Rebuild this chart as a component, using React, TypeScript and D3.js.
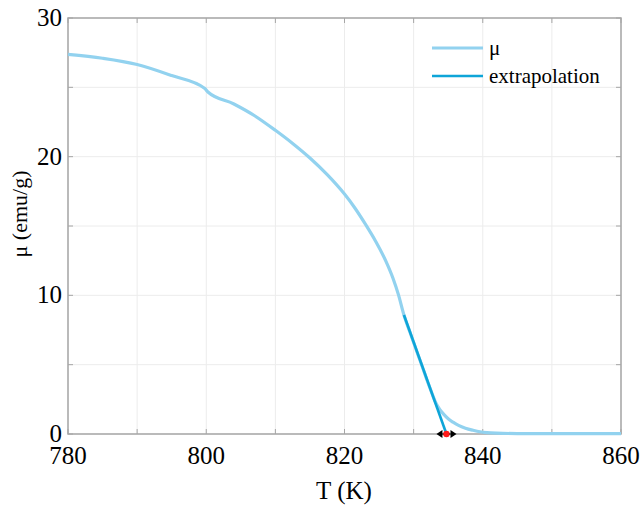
import React from "react";
import * as d3 from "d3";

// Magnetisation vs temperature near the Curie point
const temperature: number[] = [
  780, 785, 790, 795, 799.8, 800.2, 804, 807, 810, 812.5, 815, 817.5, 820,
  821.5, 823, 824.5, 826, 827, 827.8, 828.6, 829.5, 830.5, 831.3, 832, 832.6,
  833.2, 833.8, 834.3, 835, 835.7, 836.5, 837.5, 838.6, 839.6, 840.6, 842,
  845, 850, 855, 860,
];
const moment: number[] = [
  27.38, 27.1, 26.65, 25.85, 24.92, 24.68, 23.8, 22.95, 21.9, 20.95, 19.9,
  18.7, 17.3, 16.3, 15.15, 13.9, 12.45, 11.25, 10.05, 8.58, 7.3, 5.9, 4.8,
  3.8, 3.0, 2.25, 1.75, 1.45, 1.1, 0.85, 0.62, 0.42, 0.27, 0.16, 0.1, 0.06,
  0.03, 0.02, 0.02, 0.02,
];

// Linear extrapolation of the steep part down to zero moment
const extrapT: number[] = [828.6, 834.75];
const extrapMu: number[] = [8.58, 0];

// Estimated Curie temperature and its uncertainty
const curieT = 834.75;
const curieErr = 1.45;

const xTicks: number[] = [780, 790, 800, 810, 820, 830, 840, 850, 860];
const xLabels: number[] = [780, 800, 820, 840, 860];
const yTicks: number[] = [0, 5, 10, 15, 20, 25, 30];
const yLabels: number[] = [0, 10, 20, 30];

const legendNames: string[] = ["μ", "extrapolation"];

const W = 644;
const H = 506;
const left = 68;
const right = 621;
const top = 18;
const bottom = 434;

const muColor = "#92d2ef";
const extColor = "#0ea5d8";
const axisColor = "#a6a6a6";
const gridColor = "#ececec";
const font = "Liberation Serif, DejaVu Serif, serif";

export default function App() {
  const x = d3.scaleLinear().domain([780, 860]).range([left, right]);
  const y = d3.scaleLinear().domain([0, 30]).range([bottom, top]);

  const muLine = d3
    .line<number>()
    .x((_, i) => x(temperature[i]))
    .y((d) => y(d))
    .curve(d3.curveMonotoneX);
  const extLine = d3
    .line<number>()
    .x((_, i) => x(extrapT[i]))
    .y((d) => y(d));

  const cx = x(curieT);
  const x0 = x(curieT - curieErr);
  const x1 = x(curieT + curieErr);
  const cy = y(0);
  const ah = 6; // arrowhead length

  return (
    <svg
      width={W}
      height={H}
      style={{ position: "absolute", left: 0, top: 0, background: "#fff" }}
    >
      {/* grid */}
      {xTicks.map((t) => (
        <line key={"gx" + t} x1={x(t)} x2={x(t)} y1={top} y2={bottom} stroke={gridColor} strokeWidth={1} />
      ))}
      {yTicks.map((t) => (
        <line key={"gy" + t} x1={left} x2={right} y1={y(t)} y2={y(t)} stroke={gridColor} strokeWidth={1} />
      ))}

      {/* box and ticks */}
      <rect x={left} y={top} width={right - left} height={bottom - top} fill="none" stroke={axisColor} strokeWidth={1.5} />
      {xTicks.map((t) => (
        <g key={"tx" + t}>
          <line x1={x(t)} x2={x(t)} y1={bottom} y2={bottom - 5} stroke={axisColor} />
          <line x1={x(t)} x2={x(t)} y1={top} y2={top + 5} stroke={axisColor} />
        </g>
      ))}
      {yTicks.map((t) => (
        <g key={"ty" + t}>
          <line x1={left} x2={left + 5} y1={y(t)} y2={y(t)} stroke={axisColor} />
          <line x1={right} x2={right - 5} y1={y(t)} y2={y(t)} stroke={axisColor} />
        </g>
      ))}

      {/* data */}
      <path d={muLine(moment) ?? ""} fill="none" stroke={muColor} strokeWidth={3.2} strokeLinejoin="round" />
      <path d={extLine(extrapMu) ?? ""} fill="none" stroke={extColor} strokeWidth={2.6} />

      {/* Curie temperature with uncertainty */}
      <line x1={x0 + ah} x2={x1 - ah} y1={cy} y2={cy} stroke="#000" strokeWidth={1.5} />
      <path d={`M${x0},${cy}L${x0 + ah},${cy - 4}L${x0 + ah},${cy + 4}Z`} fill="#000" />
      <path d={`M${x1},${cy}L${x1 - ah},${cy - 4}L${x1 - ah},${cy + 4}Z`} fill="#000" />
      <circle cx={cx} cy={cy} r={3.2} fill="#ff1a1a" />

      {/* tick labels */}
      {xLabels.map((t) => (
        <text key={"lx" + t} x={x(t)} y={bottom + 30} textAnchor="middle" fontFamily={font} fontSize={25} fill="#000">
          {t}
        </text>
      ))}
      {yLabels.map((t) => (
        <text key={"ly" + t} x={left - 6} y={y(t) + 8} textAnchor="end" fontFamily={font} fontSize={25} fill="#000">
          {t}
        </text>
      ))}

      {/* axis titles */}
      <text x={344} y={499} textAnchor="middle" fontFamily={font} fontSize={25} fill="#000">
        T (K)
      </text>
      <text
        transform={`translate(27,214) rotate(-90)`}
        textAnchor="middle"
        fontFamily={font}
        fontSize={22}
        fill="#000"
      >
        μ (emu/g)
      </text>

      {/* legend */}
      {legendNames.map((name, i) => (
        <g key={name}>
          <line
            x1={432}
            x2={483}
            y1={48 + i * 28}
            y2={48 + i * 28}
            stroke={i === 0 ? muColor : extColor}
            strokeWidth={i === 0 ? 3.2 : 2.6}
          />
          <text x={489} y={55 + i * 28} fontFamily={font} fontSize={21} fill="#000">
            {name}
          </text>
        </g>
      ))}
    </svg>
  );
}
